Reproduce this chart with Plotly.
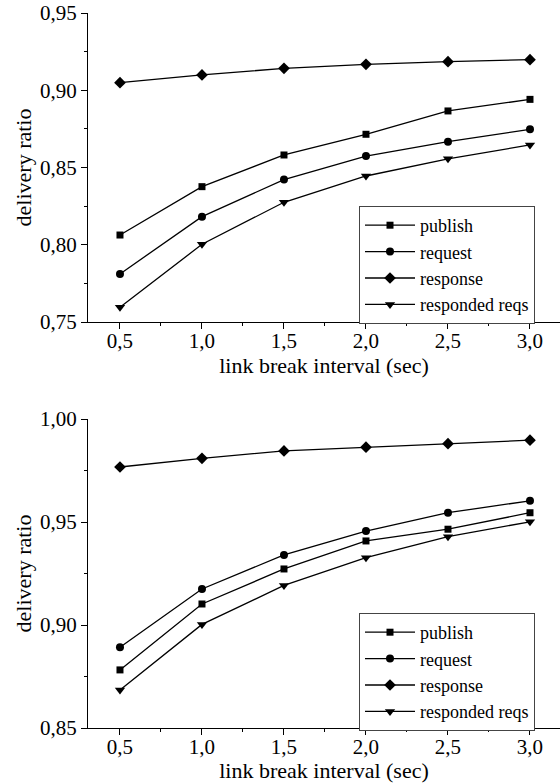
import plotly.graph_objects as go

x_vals = [0.5, 1.0, 1.5, 2.0, 2.5, 3.0]
series_names = ["publish", "request", "response", "responded reqs"]

# top chart
top_publish = [0.8063, 0.8376, 0.8581, 0.8715, 0.8866, 0.8941]
top_request = [0.7811, 0.8182, 0.8422, 0.8574, 0.8667, 0.8747]
top_response = [0.9049, 0.9099, 0.9142, 0.9168, 0.9185, 0.9198]
top_responded = [0.7595, 0.8003, 0.8275, 0.8445, 0.8556, 0.8646]

# bottom chart
bot_publish = [0.8782, 0.9102, 0.9272, 0.9408, 0.9465, 0.9545]
bot_request = [0.8892, 0.9175, 0.9340, 0.9456, 0.9545, 0.9603]
bot_response = [0.9767, 0.9809, 0.9845, 0.9863, 0.9880, 0.9897]
bot_responded = [0.8684, 0.9003, 0.9192, 0.9327, 0.9429, 0.9501]

symbols = ["square", "circle", "diamond", "triangle-down"]
sizes = [7, 8, 9, 9]

FONT = "Times New Roman"
W, H = 560, 783
L, R, T, B = 88, 0, 13, 55

fig = go.Figure()

for data, xa, ya, lg in [
    ([top_publish, top_request, top_response, top_responded], "x", "y", "legend"),
    ([bot_publish, bot_request, bot_response, bot_responded], "x2", "y2", "legend2"),
]:
    for name, ys, sym, sz in zip(series_names, data, symbols, sizes):
        fig.add_trace(go.Scatter(
            x=x_vals, y=ys, name=name, mode="lines+markers",
            line=dict(color="black", width=1.3),
            marker=dict(symbol=sym, size=sz, color="black"),
            xaxis=xa, yaxis=ya, legend=lg,
        ))

plot_h = H - T - B
plot_w = W - L - R
d1 = [(H - B - 322) / plot_h, 1.0]
d2 = [0.0, (H - B - 419) / plot_h]

tickfont = dict(family=FONT, size=21, color="black")
titlefont = dict(family=FONT, size=22, color="black")

def xaxis_main(anchor):
    return dict(
        range=[0.305, 3.183], tick0=0.5, dtick=0.5, tickformat=".1f",
        ticks="outside", ticklen=6, tickwidth=1, tickcolor="black",
        minor=dict(dtick=0.25, tick0=0.5, ticks="outside", ticklen=3, tickcolor="black"),
        showline=True, linecolor="black", linewidth=1.2, showgrid=False, zeroline=False,
        tickfont=tickfont, anchor=anchor, ticklabelstandoff=-6,
        title=dict(text="link break interval (sec)", font=titlefont, standoff=0),
    )

def yaxis_main(rng, domain, anchor):
    return dict(
        range=rng, dtick=0.05, tick0=0.0, tickformat=".2f", domain=domain,
        ticks="outside", ticklen=6, tickwidth=1, tickcolor="black",
        minor=dict(dtick=0.025, ticks="outside", ticklen=3, tickcolor="black"),
        showline=True, linecolor="black", linewidth=1.2, showgrid=False, zeroline=False,
        tickfont=tickfont, anchor=anchor,
        title=dict(text="delivery ratio", font=titlefont, standoff=2),
    )

def xaxis_top(over, anchor):
    return dict(
        overlaying=over, side="top", anchor=anchor, range=[0, 10 * 472 / 474],
        tick0=0, dtick=2, ticks="inside", ticklen=6, tickcolor="black",
        minor=dict(dtick=1, ticks="inside", ticklen=3, tickcolor="black"),
        showticklabels=False, showline=True, linecolor="black", linewidth=1.2,
        showgrid=False, zeroline=False,
    )

def yaxis_right(over, anchor):
    return dict(
        overlaying=over, side="right", anchor=anchor, range=[0, 10],
        tick0=0, dtick=2, ticks="inside", ticklen=6, tickcolor="black",
        minor=dict(dtick=1, ticks="inside", ticklen=3, tickcolor="black"),
        showticklabels=False, showline=False, showgrid=False, zeroline=False,
    )

legend_style = dict(
    xref="paper", yref="paper", xanchor="left", yanchor="top",
    bgcolor="white", bordercolor="#444", borderwidth=1,
    font=dict(family=FONT, size=18, color="black"),
    tracegroupgap=0, itemwidth=50,
)

fig.update_layout(
    width=W, height=H, autosize=False,
    margin=dict(l=L, r=R, t=T, b=B, pad=0, autoexpand=False),
    paper_bgcolor="white", plot_bgcolor="white",
    separators=",.",
    font=dict(family=FONT, color="black"),
    showlegend=True,
    xaxis=xaxis_main("y"),
    yaxis=yaxis_main([0.75, 0.95], d1, "x"),
    xaxis2=xaxis_main("y2"),
    yaxis2=yaxis_main([0.85, 1.00], d2, "x2"),
    xaxis3=xaxis_top("x", "y"),
    yaxis3=yaxis_right("y", "x"),
    xaxis4=xaxis_top("x2", "y2"),
    yaxis4=yaxis_right("y2", "x2"),
    legend=dict(x=(359 - L) / plot_w, y=(H - B - 206) / plot_h, **legend_style),
    legend2=dict(x=(359 - L) / plot_w, y=(H - B - 613) / plot_h, **legend_style),
)

fig.write_html("out.html")
